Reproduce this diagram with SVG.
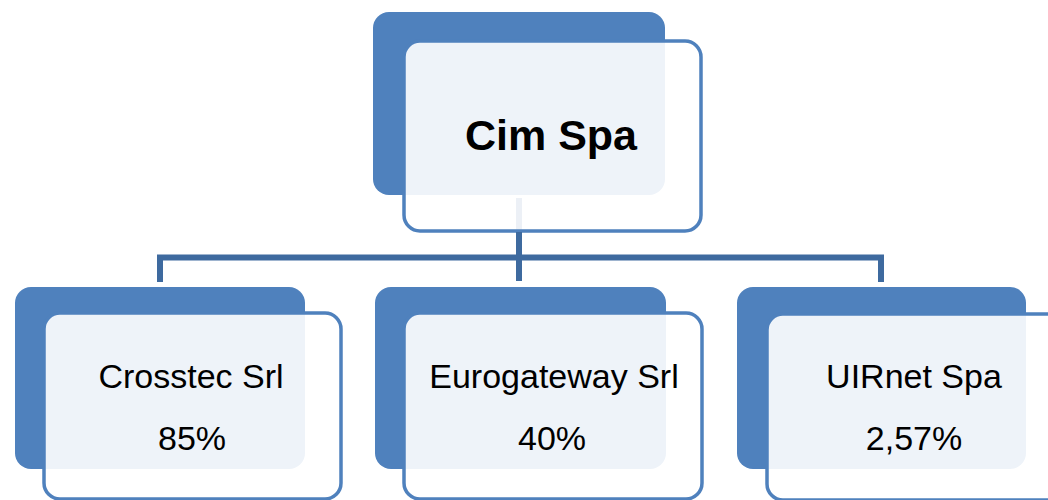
<svg xmlns="http://www.w3.org/2000/svg" width="1048" height="500" viewBox="0 0 1048 500">
<style>
.back{fill:#4F81BD;}
.front{fill:#FFFFFF;fill-opacity:0.9;stroke:#4F81BD;stroke-width:3.5;}
.conn{fill:none;stroke:#3E6A9F;stroke-width:6;stroke-linejoin:miter;}
.t{font-family:"Liberation Sans",Arial,sans-serif;fill:#000;text-anchor:middle;}
.title{font-size:43px;font-weight:bold;}
.lbl{font-size:34px;}
</style>
<rect width="1048" height="500" fill="#FFFFFF"/>
<g id="connectors">
<path class="conn" d="M519,198 V257.5"/>
<path class="conn" d="M160,282 V257.5 H881 V282"/>
</g>
<g id="node-cim">
<rect class="back" x="373" y="12" width="292" height="183" rx="16"/>
<rect class="front" x="404" y="41" width="297" height="190" rx="16"/>
<path class="conn" d="M519,232 V281"/>
<text class="t title" x="551" y="150">Cim Spa</text>
</g>
<g id="node-crosstec">
<rect class="back" x="15" y="287" width="290" height="182" rx="16"/>
<rect class="front" x="44" y="313" width="297" height="186" rx="16"/>
<text class="t lbl" x="191" y="388">Crosstec Srl</text>
<text class="t lbl" x="192" y="450">85%</text>
</g>
<g id="node-eurogateway">
<rect class="back" x="375" y="287" width="291" height="182" rx="16"/>
<rect class="front" x="404" y="313" width="298" height="186" rx="16"/>
<text class="t lbl" x="554" y="388">Eurogateway Srl</text>
<text class="t lbl" x="552" y="450">40%</text>
</g>
<g id="node-uirnet">
<rect class="back" x="737" y="287" width="289" height="182" rx="16"/>
<rect class="front" x="767" y="314" width="298" height="186" rx="16"/>
<text class="t lbl" x="914" y="388">UIRnet Spa</text>
<text class="t lbl" x="914" y="450">2,57%</text>
</g>
</svg>
